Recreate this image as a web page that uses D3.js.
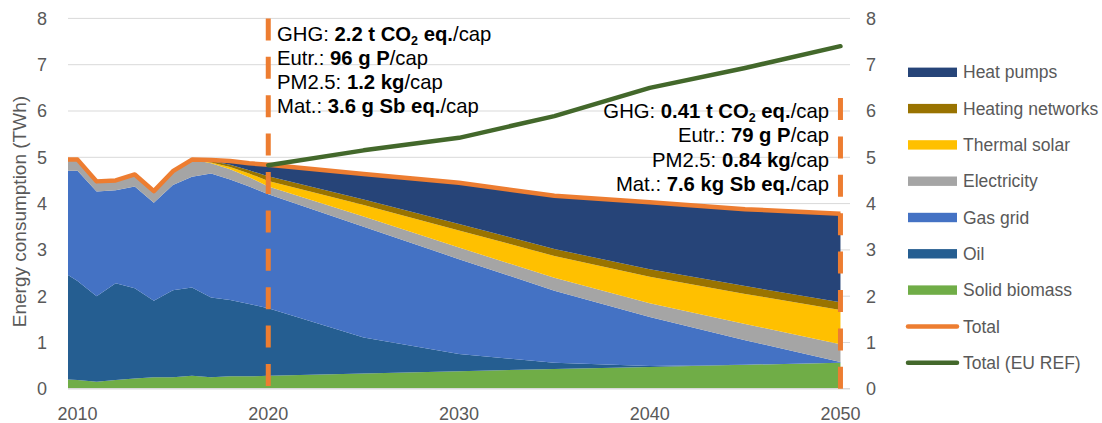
<!DOCTYPE html>
<html>
<head>
<meta charset="utf-8">
<script src="https://cdn.jsdelivr.net/npm/d3@7"></script>
<style>
  html, body { margin: 0; padding: 0; background: #fff; }
  svg { display: block; font-family: "Liberation Sans", Arial, sans-serif; }
</style>
</head>
<body>
<svg id="chart" width="1102" height="423"></svg>
<script>
// Residential heat supply by energy carrier, historical and projected (TWh)
const years = [2009.5, 2010, 2011, 2012, 2013, 2014, 2015, 2016, 2017, 2018, 2019,
               2020, 2025, 2030, 2035, 2040, 2045, 2050];

const solidBiomass = [0.20, 0.19, 0.15, 0.19, 0.22, 0.25, 0.25, 0.28, 0.25, 0.27, 0.27,
                      0.28, 0.33, 0.38, 0.43, 0.47, 0.52, 0.56];
const oil          = [2.26, 2.14, 1.85, 2.09, 1.95, 1.65, 1.88, 1.91, 1.72, 1.65, 1.56,
                      1.46, 0.78, 0.37, 0.13, 0.02, 0.00, 0.00];
const gasGrid      = [2.25, 2.38, 2.26, 2.01, 2.20, 2.12, 2.27, 2.39, 2.68, 2.60, 2.54,
                      2.46, 2.39, 2.05, 1.56, 1.06, 0.53, 0.02];
const electricity  = [0.24, 0.24, 0.22, 0.21, 0.26, 0.25, 0.30, 0.37, 0.22, 0.22, 0.20,
                      0.17, 0.22, 0.25, 0.28, 0.30, 0.35, 0.38];
const thermalSolar = [0, 0, 0, 0, 0, 0, 0, 0, 0.02, 0.05, 0.08,
                      0.12, 0.25, 0.37, 0.47, 0.57, 0.65, 0.74];
const heatingNetworks = [0, 0, 0, 0, 0, 0, 0, 0, 0.03, 0.05, 0.07,
                         0.10, 0.12, 0.14, 0.15, 0.16, 0.17, 0.17];
const heatPumps    = [0, 0, 0, 0, 0, 0, 0, 0, 0.02, 0.08, 0.15,
                      0.25, 0.55, 0.89, 1.15, 1.45, 1.66, 1.92];
const total        = [4.95, 4.95, 4.48, 4.50, 4.63, 4.27, 4.70, 4.95, 4.94, 4.92, 4.87,
                      4.84, 4.64, 4.45, 4.17, 4.03, 3.88, 3.78];

const refYears = [2020, 2025, 2030, 2035, 2040, 2045, 2050];
const totalEuRef = [4.83, 5.15, 5.42, 5.89, 6.50, 6.93, 7.40];

const xTicks = [2010, 2020, 2030, 2040, 2050];
const yTicks = [0, 1, 2, 3, 4, 5, 6, 7, 8];

// Markers at the two assessed years, with the impact indicators per capita
const markerYears = [2020, 2050];
const markerTops = [8, 6.3];
const notes2020 = [
  [["GHG: ", false], ["2.2 t CO", true], ["2", true, "sub"], [" eq.", true], ["/cap", false]],
  [["Eutr.: ", false], ["96 g P", true], ["/cap", false]],
  [["PM2.5: ", false], ["1.2 kg", true], ["/cap", false]],
  [["Mat.: ", false], ["3.6 g Sb eq.", true], ["/cap", false]]
];
const notes2050 = [
  [["GHG: ", false], ["0.41 t CO", true], ["2", true, "sub"], [" eq.", true], ["/cap", false]],
  [["Eutr.: ", false], ["79 g P", true], ["/cap", false]],
  [["PM2.5: ", false], ["0.84 kg", true], ["/cap", false]],
  [["Mat.: ", false], ["7.6 kg Sb eq.", true], ["/cap", false]]
];

const layers = [
  { name: "Solid biomass",    values: solidBiomass,    color: "#70AD47" },
  { name: "Oil",              values: oil,             color: "#255E91" },
  { name: "Gas grid",         values: gasGrid,         color: "#4472C4" },
  { name: "Electricity",      values: electricity,     color: "#A5A5A5" },
  { name: "Thermal solar",    values: thermalSolar,    color: "#FFC000" },
  { name: "Heating networks", values: heatingNetworks, color: "#997300" },
  { name: "Heat pumps",       values: heatPumps,       color: "#264478" }
];
const totalColor = "#ED7D31";
const refColor = "#43682B";

const svg = d3.select("#chart");
const plot = { left: 68, right: 850, top: 18.4, bottom: 388.8 };

const x = d3.scaleLinear().domain([2009.5, 2050.5]).range([plot.left, plot.right]);
const y = d3.scaleLinear().domain([0, 8]).range([plot.bottom, plot.top]);

// Gridlines
svg.append("g").selectAll("line").data(yTicks.filter(d => d > 0)).join("line")
  .attr("x1", plot.left).attr("x2", plot.right)
  .attr("y1", d => y(d)).attr("y2", d => y(d))
  .attr("stroke", "#d9d9d9").attr("stroke-width", 1);

// Stacked areas
const rows = years.map((yr, i) => {
  const r = { year: yr };
  layers.forEach(l => { r[l.name] = l.values[i]; });
  return r;
});
const stack = d3.stack().keys(layers.map(l => l.name));
const series = stack(rows);
const area = d3.area()
  .x(d => x(d.data.year))
  .y0(d => y(d[0]))
  .y1(d => y(d[1]));
svg.append("g").selectAll("path").data(series).join("path")
  .attr("d", area)
  .attr("fill", (d, i) => layers[i].color);

// Baseline
svg.append("line")
  .attr("x1", plot.left).attr("x2", plot.right)
  .attr("y1", y(0)).attr("y2", y(0))
  .attr("stroke", "#d9d9d9").attr("stroke-width", 1.5);

// Dashed markers
svg.append("line")
  .attr("x1", x(markerYears[0])).attr("x2", x(markerYears[0]))
  .attr("y1", y(markerTops[0])).attr("y2", y(0))
  .attr("stroke", totalColor).attr("stroke-width", 5)
  .attr("stroke-dasharray", "22 16.4");
svg.append("line")
  .attr("x1", x(markerYears[1])).attr("x2", x(markerYears[1]))
  .attr("y1", y(0)).attr("y2", y(markerTops[1]))
  .attr("stroke", totalColor).attr("stroke-width", 5)
  .attr("stroke-dasharray", "22 16.4");

// Total lines
const line = d3.line().x(d => x(d[0])).y(d => y(d[1]));
svg.append("path")
  .attr("d", line(years.map((yr, i) => [yr, total[i]])))
  .attr("fill", "none").attr("stroke", totalColor)
  .attr("stroke-width", 4.5).attr("stroke-linejoin", "round");
svg.append("path")
  .attr("d", line(refYears.map((yr, i) => [yr, totalEuRef[i]])))
  .attr("fill", "none").attr("stroke", refColor)
  .attr("stroke-width", 4.5).attr("stroke-linejoin", "round").attr("stroke-linecap", "round");

// Axes labels
const axisColor = "#595959";
svg.append("g").selectAll("text").data(yTicks).join("text")
  .attr("x", 47).attr("y", d => y(d)).attr("dy", "0.35em")
  .attr("text-anchor", "end").attr("fill", axisColor).attr("font-size", 18)
  .text(d => d);
svg.append("g").selectAll("text").data(yTicks).join("text")
  .attr("x", 866).attr("y", d => y(d)).attr("dy", "0.35em")
  .attr("text-anchor", "start").attr("fill", axisColor).attr("font-size", 18)
  .text(d => d);
svg.append("g").selectAll("text").data(xTicks).join("text")
  .attr("x", d => x(d)).attr("y", 420)
  .attr("text-anchor", "middle").attr("fill", axisColor).attr("font-size", 18)
  .text(d => d);
svg.append("text")
  .attr("transform", `translate(26,${(plot.top + plot.bottom) / 2 + 8}) rotate(-90)`)
  .attr("text-anchor", "middle").attr("fill", axisColor).attr("font-size", 19)
  .text("Energy consumption (TWh)");

// Indicator notes
function writeNotes(lines, xPos, firstBaseline, step, anchor) {
  lines.forEach((parts, i) => {
    const t = svg.append("text")
      .attr("x", xPos).attr("y", firstBaseline + i * step)
      .attr("text-anchor", anchor).attr("font-size", 20.3).attr("fill", "#000");
    parts.forEach((p, j) => {
      const s = t.append("tspan").text(p[0])
        .attr("font-weight", p[1] ? "bold" : "normal");
      if (p[2] === "sub") {
        s.attr("font-size", 12.5).attr("dy", 4);
      } else if (j > 0 && parts[j - 1][2] === "sub") {
        s.attr("dy", -4);
      }
    });
  });
}
writeNotes(notes2020, 277, 41, 24, "start");
writeNotes(notes2050, 829, 118, 24.4, "end");

// Legend
const legendItems = [
  ...layers.slice().reverse().map(l => ({ name: l.name, color: l.color, kind: "area" })),
  { name: "Total", color: totalColor, kind: "line" },
  { name: "Total (EU REF)", color: refColor, kind: "line" }
];
const lg = svg.append("g");
legendItems.forEach((it, i) => {
  const cy = 72.3 + i * 36.3;
  if (it.kind === "area") {
    lg.append("rect").attr("x", 908).attr("y", cy - 4.7).attr("width", 49).attr("height", 9.4)
      .attr("fill", it.color);
  } else {
    lg.append("line").attr("x1", 908).attr("x2", 957).attr("y1", cy).attr("y2", cy)
      .attr("stroke", it.color).attr("stroke-width", 4.5).attr("stroke-linecap", "round");
  }
  lg.append("text").attr("x", 963).attr("y", cy).attr("dy", "0.35em")
    .attr("fill", axisColor).attr("font-size", 17.5).text(it.name);
});
</script>
</body>
</html>
